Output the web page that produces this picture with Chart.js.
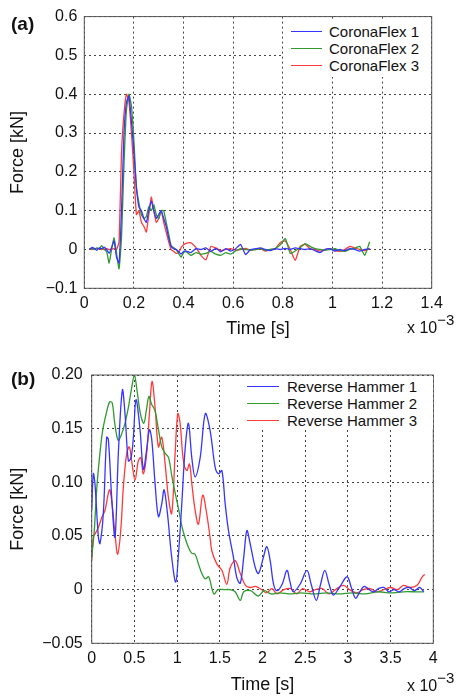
<!DOCTYPE html>
<html>
<head>
<meta charset="utf-8">
<title>Force vs time – CoronaFlex / Reverse Hammer</title>
<script src="https://cdn.jsdelivr.net/npm/chart.js@4.4.0/dist/chart.umd.min.js"></script>
<style>
  body { margin: 0; width: 460px; height: 698px; background: #fff; position: relative; overflow: hidden;
         font-family: "Liberation Sans", Arial, sans-serif; color: #111; }
  canvas { position: absolute; left: 0; }
  #chartA { top: 0; }
  #chartB { top: 345px; }
  .tag { position: absolute; left: 11px; font-weight: bold; font-size: 19px; line-height: 20px; }
  .exp { position: absolute; left: 407px; font-size: 16px; line-height: 18px; white-space: nowrap; }
  .exp sup { font-size: 15px; position: relative; top: -2px; }
  .legend { position: absolute; background: #fff; font-size: 15px; }
  .legend .row { position: absolute; white-space: nowrap; line-height: 17px; height: 17px; }
  .legend .swatch { position: absolute; top: 8px; height: 0; border-top: 1.5px solid; }
</style>
</head>
<body>
<canvas id="chartA" width="460" height="345"></canvas>
<canvas id="chartB" width="460" height="353"></canvas>
<div class="tag" style="top:14px">(a)</div>
<div class="tag" style="top:369px">(b)</div>
<div class="exp" style="top:313px">x 10<sup>−3</sup></div>
<div class="exp" style="top:671px">x 10<sup>−3</sup></div>

<script>
// ---- panel (a): CoronaFlex, time in ms (axis shows x 10^-3 s) ----
const aTime = [0.02,0.03,0.04,0.05,0.06,0.07,0.08,0.09,0.10,0.11,0.12,0.13,0.14,0.15,0.16,0.17,0.18,0.19,0.20,
  0.21,0.22,0.23,0.24,0.25,0.26,0.27,0.28,0.29,0.30,0.31,0.32,0.33,0.34,0.35,0.36,0.37,0.38,0.39,0.40,
  0.41,0.43,0.45,0.47,0.49,0.51,0.53,0.55,0.57,0.59,0.61,0.63,0.65,0.67,0.69,0.71,0.73,0.75,0.77,0.79,
  0.81,0.83,0.85,0.87,0.89,0.91,0.93,0.95,0.97,0.99,1.01,1.03,1.05,1.07,1.09,1.11,1.13,1.15];
const coronaFlex1 = [0.000,0.005,0.003,-0.002,0.004,0.002,0.006,0.000,-0.010,0.005,0.022,-0.020,-0.035,0.100,0.300,0.380,0.395,0.330,0.250,
  0.160,0.110,0.100,0.080,0.070,0.100,0.125,0.100,0.080,0.090,0.100,0.080,0.060,0.030,0.008,0.002,0.000,-0.005,-0.012,-0.005,
  -0.004,-0.008,0.002,0.000,0.004,-0.005,0.003,-0.006,0.002,-0.004,0.002,0.013,-0.013,0.000,0.002,0.004,0.000,-0.003,0.002,0.000,
  0.003,0.000,0.004,0.002,0.000,0.002,-0.003,-0.008,0.000,0.002,-0.004,0.000,-0.003,0.002,0.000,-0.004,0.000,0.002];
const coronaFlex2 = [0.001,0.003,0.000,0.004,0.002,0.010,0.000,-0.005,-0.035,0.000,0.030,-0.010,-0.050,0.030,0.220,0.360,0.400,0.370,0.280,
  0.160,0.120,0.090,0.080,0.085,0.110,0.100,0.115,0.090,0.080,0.100,0.100,0.070,0.040,0.010,0.005,0.000,-0.010,-0.020,-0.008,
  -0.005,-0.015,-0.008,-0.012,-0.010,-0.005,-0.012,-0.015,-0.008,-0.012,-0.004,0.002,0.000,-0.002,0.000,0.002,-0.002,0.000,0.003,0.012,
  0.028,-0.010,-0.004,0.005,0.015,0.008,0.002,0.000,-0.002,0.000,0.002,-0.003,-0.005,0.000,0.003,0.008,-0.015,0.020];
const coronaFlex3 = [0.002,0.000,0.001,0.003,0.002,0.000,0.001,0.002,0.000,0.001,0.002,0.000,0.020,0.250,0.350,0.400,0.380,0.300,0.200,
  0.090,0.100,0.070,0.060,0.045,0.090,0.135,0.100,0.070,0.080,0.100,0.070,0.045,0.020,0.000,-0.005,-0.010,-0.008,0.005,0.012,
  0.016,0.017,0.005,-0.015,-0.027,0.008,0.004,-0.003,0.000,0.002,-0.002,0.000,0.003,-0.002,0.000,0.002,-0.004,0.000,0.002,0.018,
  0.022,0.000,-0.028,0.008,0.013,0.002,0.000,-0.004,0.000,0.002,-0.003,-0.005,0.000,0.008,0.004,0.000,-0.003,0.002];
const aLabels = ['CoronaFlex 1', 'CoronaFlex 2', 'CoronaFlex 3'];
const aXTicks = [0, 0.2, 0.4, 0.6, 0.8, 1.0, 1.2, 1.4];
const aXTickLabels = ['0', '0.2', '0.4', '0.6', '0.8', '1', '1.2', '1.4'];
const aYTicks = [-0.1, 0, 0.1, 0.2, 0.3, 0.4, 0.5, 0.6];
const aYTickLabels = ['−0.1', '0', '0.1', '0.2', '0.3', '0.4', '0.5', '0.6'];

// ---- panel (b): Reverse Hammer ----
const rh1Time = [0,0.019,0.039,0.078,0.097,0.136,0.175,0.195,0.234,0.273,0.312,0.359,0.39,0.429,0.461,0.488,0.519,0.566,0.605,
  0.644,0.676,0.703,0.742,0.781,0.82,0.848,0.887,0.937,0.984,1.016,1.055,1.094,1.133,1.172,1.211,1.27,1.33,1.387,1.446,1.485,
  1.524,1.563,1.602,1.66,1.70,1.74,1.78,1.817,1.855,1.914,1.953,2.01,2.05,2.09,2.13,2.17,2.23,2.286,2.32,2.36,2.44,2.52,2.57,
  2.63,2.68,2.73,2.78,2.83,2.90,2.99,3.04,3.09,3.14,3.19,3.25,3.30,3.36,3.42,3.48,3.54,3.60,3.66,3.72,3.78,3.84,3.89];
const reverseHammer1 = [0.074,0.108,0.098,0.049,0.043,0.071,0.142,0.140,0.086,0.049,0.127,0.186,0.164,0.120,0.123,0.142,0.177,0.149,0.112,
  0.131,0.149,0.140,0.099,0.068,0.080,0.093,0.071,0.030,0.007,0.033,0.080,0.131,0.155,0.123,0.105,0.123,0.164,0.148,0.114,0.108,
  0.111,0.080,0.055,0.030,0.011,0.006,0.030,0.055,0.043,0.021,0.015,0.030,0.040,0.027,0.005,-0.001,0.005,0.018,0.008,-0.002,0.005,0.018,0.005,
  -0.010,0.005,0.018,0.005,-0.005,0.002,0.012,0.002,-0.008,-0.002,0.003,0.000,-0.002,0.001,0.002,-0.002,0.000,-0.002,0.001,0.002,-0.001,0.002,-0.002];
const rh2Time = [0,0.03,0.06,0.10,0.13,0.17,0.21,0.24,0.27,0.31,0.35,0.39,0.43,0.47,0.50,0.53,0.57,0.61,0.64,0.67,0.70,0.74,0.78,
  0.82,0.86,0.90,0.94,0.98,1.02,1.05,1.09,1.13,1.17,1.21,1.25,1.29,1.33,1.37,1.43,1.48,1.55,1.62,1.68,1.74,1.78,1.86,1.95,2.02,
  2.10,2.20,2.33,2.45,2.60,2.75,2.90,3.05,3.20,3.35,3.50,3.65,3.80,3.89];
const reverseHammer2 = [0.030,0.055,0.095,0.130,0.149,0.164,0.175,0.174,0.155,0.139,0.145,0.155,0.170,0.189,0.200,0.186,0.164,0.155,0.167,0.180,0.173,0.167,0.150,
  0.133,0.127,0.123,0.105,0.089,0.074,0.061,0.049,0.040,0.034,0.033,0.024,0.015,0.010,0.012,-0.004,0.000,0.000,0.000,-0.002,-0.010,-0.002,-0.001,-0.006,-0.001,
  -0.004,-0.003,-0.004,-0.003,-0.004,-0.003,-0.004,-0.003,-0.004,-0.002,-0.003,-0.002,-0.002,-0.002];
const rh3Time = [0,0.019,0.04,0.078,0.117,0.156,0.207,0.234,0.273,0.304,0.34,0.371,0.41,0.44,0.468,0.507,0.546,0.574,0.605,0.644,
  0.676,0.707,0.742,0.781,0.82,0.86,0.898,0.937,0.977,1.008,1.035,1.074,1.113,1.145,1.172,1.211,1.25,1.30,1.348,1.387,1.407,
  1.465,1.524,1.582,1.62,1.68,1.74,1.80,1.855,1.92,1.99,2.05,2.11,2.17,2.25,2.33,2.40,2.47,2.55,2.62,2.70,2.78,2.87,2.95,3.02,
  3.10,3.18,3.26,3.34,3.42,3.50,3.58,3.65,3.73,3.81,3.87,3.90];
const reverseHammer3 = [0.027,0.049,0.052,0.058,0.067,0.074,0.093,0.083,0.052,0.033,0.055,0.096,0.127,0.133,0.120,0.102,0.120,0.123,0.108,0.127,
  0.164,0.194,0.170,0.133,0.142,0.117,0.086,0.071,0.127,0.164,0.155,0.120,0.111,0.117,0.099,0.074,0.061,0.088,0.070,0.048,0.036,
  0.024,0.018,0.005,0.020,0.027,0.015,0.004,0.002,0.003,0.000,-0.003,0.001,-0.004,0.000,0.001,-0.004,0.001,-0.002,0.000,0.001,-0.004,0.001,0.004,0.000,
  -0.003,0.000,0.001,-0.002,0.000,0.002,0.000,0.004,0.002,0.004,0.012,0.014];
const bLabels = ['Reverse Hammer 1', 'Reverse Hammer 2', 'Reverse Hammer 3'];
const bXTicks = [0, 0.5, 1, 1.5, 2, 2.5, 3, 3.5, 4];
const bXTickLabels = ['0', '0.5', '1', '1.5', '2', '2.5', '3', '3.5', '4'];
const bYTicks = [-0.05, 0, 0.05, 0.10, 0.15, 0.20];
const bYTickLabels = ['−0.05', '0', '0.05', '0.10', '0.15', '0.20'];

const seriesColors = ['#3535ff', '#2f9a2f', '#ff3a3a'];
const FONT = '"Liberation Sans", Arial, sans-serif';

// solid box round the plot area (MATLAB style)
const framePlugin = {
  id: 'frame',
  afterDraw(chart) {
    const { ctx, chartArea: a } = chart;
    ctx.save();
    ctx.strokeStyle = '#555';
    ctx.lineWidth = 1;
    ctx.strokeRect(a.left, a.top, a.right - a.left, a.bottom - a.top);
    ctx.restore();
  }
};

function toPoints(t, v) {
  return t.map((x, i) => ({ x: x, y: v[i] }));
}

function buildPanel(canvasId, o) {
  const gridOpts = { color: '#444', lineWidth: 1, borderDash: [2, 3], drawTicks: false };
  const borderOpts = { display: false, dash: [2, 3] };
  return new Chart(document.getElementById(canvasId), {
    type: 'line',
    data: {
      datasets: o.series.map((s, i) => ({
        label: o.labels[i],
        data: toPoints(s.t, s.v),
        borderColor: seriesColors[i],
        borderWidth: 1.3,
        pointRadius: 0,
        tension: o.tension,
        fill: false
      }))
    },
    options: {
      responsive: false,
      animation: false,
      layout: { padding: o.pad },
      plugins: { legend: { display: false }, tooltip: { enabled: false } },
      scales: {
        x: {
          type: 'linear',
          min: o.xTicks[0],
          max: o.xTicks[o.xTicks.length - 1],
          afterBuildTicks: sc => { sc.ticks = o.xTicks.map(v => ({ value: v })); },
          afterFit: sc => { sc.height = o.xH; },
          grid: gridOpts,
          border: borderOpts,
          ticks: {
            autoSkip: false, maxRotation: 0, padding: 6, color: '#111',
            font: { family: FONT, size: 16 },
            callback: (v, i) => o.xTickLabels[i]
          },
          title: { display: true, text: 'Time [s]', color: '#111', padding: 0, font: { family: FONT, size: 18 } }
        },
        y: {
          min: o.yTicks[0],
          max: o.yTicks[o.yTicks.length - 1],
          afterBuildTicks: sc => { sc.ticks = o.yTicks.map(v => ({ value: v })); },
          afterFit: sc => { sc.width = o.yW; },
          grid: gridOpts,
          border: borderOpts,
          ticks: {
            autoSkip: false, padding: o.yPad, color: '#111',
            font: { family: FONT, size: 16 },
            callback: (v, i) => o.yTickLabels[i]
          },
          title: { display: true, text: 'Force [kN]', color: '#111', padding: { top: 7, bottom: 0 }, font: { family: FONT, size: 18 } }
        }
      }
    },
    plugins: [framePlugin]
  });
}

// html legend with white box that hides the grid underneath
function buildLegend(labels, box) {
  const el = document.createElement('div');
  el.className = 'legend';
  el.style.left = box.x + 'px';
  el.style.top = box.y + 'px';
  el.style.width = box.w + 'px';
  el.style.height = box.h + 'px';
  labels.forEach((lab, i) => {
    const row = document.createElement('div');
    row.className = 'row';
    row.style.top = (box.rowTop + i * box.rowGap) + 'px';
    row.style.left = '0px';
    const sw = document.createElement('div');
    sw.className = 'swatch';
    sw.style.left = box.lineX + 'px';
    sw.style.width = box.lineW + 'px';
    sw.style.borderColor = seriesColors[i];
    const tx = document.createElement('span');
    tx.textContent = lab;
    tx.style.position = 'absolute';
    tx.style.left = box.textX + 'px';
    row.appendChild(sw);
    row.appendChild(tx);
    el.appendChild(row);
  });
  document.body.appendChild(el);
}

buildPanel('chartA', {
  series: [
    { t: aTime, v: coronaFlex1 },
    { t: aTime, v: coronaFlex2 },
    { t: aTime, v: coronaFlex3 }
  ],
  labels: aLabels,
  tension: 0.15,
  xTicks: aXTicks, xTickLabels: aXTickLabels,
  yTicks: aYTicks, yTickLabels: aYTickLabels,
  pad: { left: 0, right: 28.3, top: 14.7, bottom: 5.2 },
  yW: 84.3, xH: 51.5, yPad: 7
});

buildPanel('chartB', {
  series: [
    { t: rh1Time, v: reverseHammer1 },
    { t: rh2Time, v: reverseHammer2 },
    { t: rh3Time, v: reverseHammer3 }
  ],
  labels: bLabels,
  tension: 0.35,
  xTicks: bXTicks, xTickLabels: bXTickLabels,
  yTicks: bYTicks, yTickLabels: bYTickLabels,
  pad: { left: 0, right: 26.7, top: 30, bottom: 2.2 },
  yW: 91.7, xH: 52.5, yPad: 9
});

buildLegend(aLabels, { x: 284, y: 20, w: 147, h: 57, rowTop: 3, rowGap: 17, lineX: 7, lineW: 31, textX: 45 });
buildLegend(bLabels, { x: 238, y: 376, w: 195, h: 53, rowTop: 2, rowGap: 17, lineX: 9, lineW: 32, textX: 49 });
</script>
</body>
</html>
